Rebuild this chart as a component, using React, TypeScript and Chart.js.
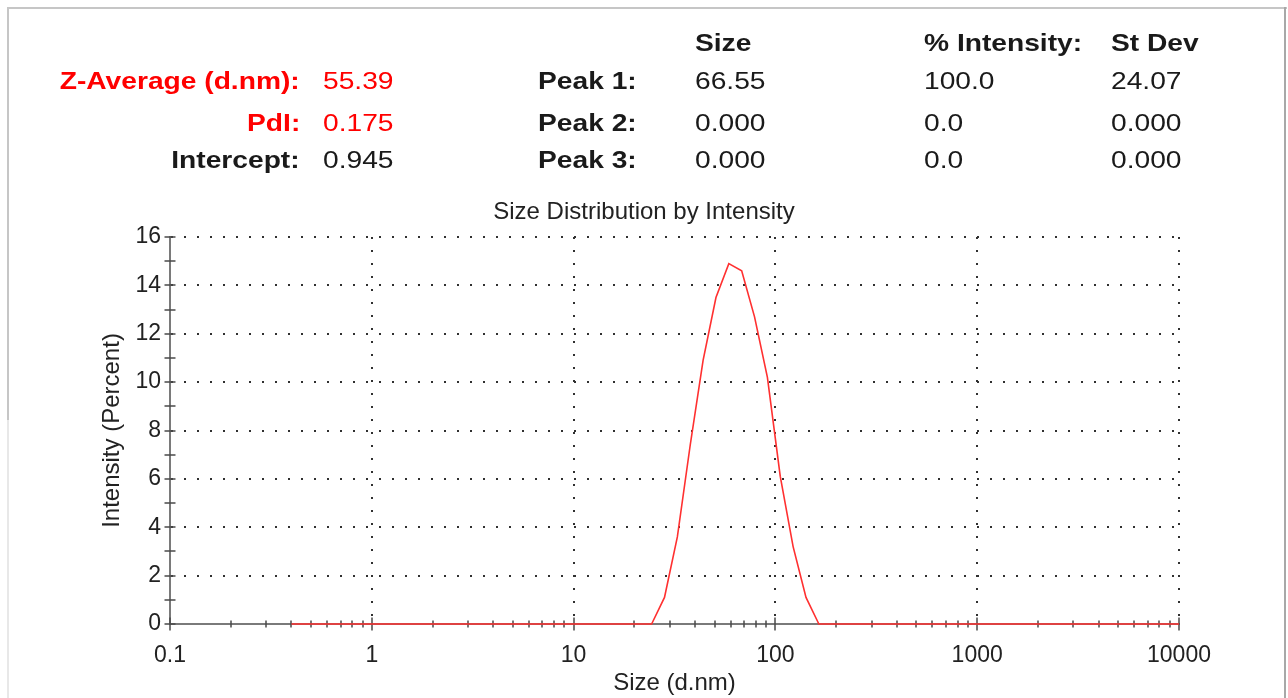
import React, { useEffect, useRef } from 'react';
import { Chart, registerables } from 'chart.js';

Chart.register(...registerables);

// ---- Data ----
const SIZES = [
  0.4, 0.4632, 0.5365, 0.6213, 0.7195, 0.8332, 0.9649, 1.117, 1.294, 1.499,
  1.736, 2.01, 2.328, 2.696, 3.122, 3.615, 4.187, 4.849, 5.615, 6.503,
  7.531, 8.721, 10.1, 11.7, 13.54, 15.69, 18.17, 21.04, 24.36, 28.21,
  32.67, 37.84, 43.82, 50.75, 58.77, 68.06, 78.82, 91.28, 105.7, 122.4,
  141.8, 164.2, 190.1, 220.2, 255, 295.3, 342, 396.1, 458.7, 531.2,
  615.1, 712.4, 825, 955.4, 1106, 1281, 1484, 1718, 1990, 2305,
  2669, 3091, 3580, 4145, 4801, 5560, 6439, 7456, 8635, 10000,
];
const INTENSITY = [
  0, 0, 0, 0, 0, 0, 0, 0, 0, 0,
  0, 0, 0, 0, 0, 0, 0, 0, 0, 0,
  0, 0, 0, 0, 0, 0, 0, 0, 0, 1.1,
  3.6, 7.4, 10.9, 13.5, 14.9, 14.6, 12.7, 10.2, 6.1, 3.2,
  1.1, 0, 0, 0, 0, 0, 0, 0, 0, 0,
  0, 0, 0, 0, 0, 0, 0, 0, 0, 0,
  0, 0, 0, 0, 0, 0, 0, 0, 0, 0,
];
const X_DECADES = [0.1, 1, 10, 100, 1000, 10000];
const X_LABELS = ['0.1', '1', '10', '100', '1000', '10000'];
const X_MINOR_MULTIPLES = [2, 3, 4, 5, 6, 7, 8, 9];
const Y_MIN = 0;
const Y_MAX = 16;
const Y_LABEL_STEP = 2;

const CHART_TITLE = 'Size Distribution by Intensity';
const X_TITLE = 'Size (d.nm)';
const Y_TITLE = 'Intensity (Percent)';

const SUMMARY_LABELS = ['Z-Average (d.nm):', 'PdI:', 'Intercept:'];
const SUMMARY_VALUES = ['55.39', '0.175', '0.945'];
const SUMMARY_RED = [true, true, false];
const PEAK_HEADERS = ['Size', '% Intensity:', 'St Dev'];
const PEAK_LABELS = ['Peak 1:', 'Peak 2:', 'Peak 3:'];
const PEAK_SIZE = ['66.55', '0.000', '0.000'];
const PEAK_INTENSITY = ['100.0', '0.0', '0.0'];
const PEAK_STDEV = ['24.07', '0.000', '0.000'];

const FONT = '"Liberation Sans", Arial, Helvetica, sans-serif';
const RED = '#ff0000';
const INK = '#1a1a1a';

const isDecade = (v: number) => X_DECADES.some((d) => Math.abs(d - v) < d * 1e-6);

const crossTicks = {
  id: 'crossTicks',
  beforeDatasetsDraw(chart: any) {
    const { ctx } = chart;
    const xs = chart.scales.x;
    const ys = chart.scales.y;
    const y0 = ys.getPixelForValue(Y_MIN);
    const x0 = xs.getPixelForValue(X_DECADES[0]);
    ctx.save();
    ctx.strokeStyle = '#4a4a4a';
    ctx.lineWidth = 1.5;
    ctx.beginPath();
    for (const t of xs.ticks) {
      const px = Math.round(xs.getPixelForValue(t.value));
      const len = isDecade(t.value) ? 6.5 : 3.5;
      ctx.moveTo(px, y0 - len);
      ctx.lineTo(px, y0 + len);
    }
    for (const t of ys.ticks) {
      const py = Math.round(ys.getPixelForValue(t.value));
      ctx.moveTo(x0 - 5.5, py);
      ctx.lineTo(x0 + 5.5, py);
    }
    ctx.stroke();
    ctx.restore();
  },
};

const FS = 24.5;
const STRETCH = 1.15;
const BASE_OFF = (FS - 1.117 * FS) / 2 + 0.905 * FS;

function Txt(props: { x: number; base: number; text: string; bold?: boolean; color?: string; right?: boolean }) {
  const { x, base, text, bold, color, right } = props;
  const style: any = {
    position: 'absolute',
    top: base - BASE_OFF,
    fontFamily: FONT,
    fontSize: FS,
    lineHeight: FS + 'px',
    fontWeight: bold ? 'bold' : 'normal',
    color: color || INK,
    whiteSpace: 'nowrap',
    transform: `scaleX(${STRETCH})`,
    transformOrigin: right ? 'right center' : 'left center',
  };
  if (right) {
    style.right = 1288 - x;
    style.textAlign = 'right';
  } else {
    style.left = x;
  }
  return <div style={style}>{text}</div>;
}

export default function App() {
  const canvasRef = useRef<HTMLCanvasElement | null>(null);

  useEffect(() => {
    if (!canvasRef.current) return;
    Chart.defaults.font.family = FONT;
    const gridDot = '#303030';
    const chart = new Chart(canvasRef.current, {
      type: 'line',
      data: {
        datasets: [
          {
            data: SIZES.map((s, i) => ({ x: s, y: INTENSITY[i] })),
            borderColor: '#ff3030',
            borderWidth: 1.6,
            pointRadius: 0,
            tension: 0,
            fill: false,
            clip: false as any,
          },
        ],
      },
      plugins: [crossTicks],
      options: {
        animation: false,
        responsive: false,
        devicePixelRatio: 1,
        events: [],
        layout: { padding: { top: 198, left: 0, right: 0, bottom: 0 } },
        plugins: {
          legend: { display: false },
          tooltip: { enabled: false },
          title: {
            display: true,
            text: CHART_TITLE,
            color: '#222',
            font: { size: 24, weight: 'normal', family: FONT },
            padding: { top: 0, bottom: 10.2 },
          },
        },
        scales: {
          x: {
            type: 'logarithmic',
            position: 'bottom',
            min: X_DECADES[0],
            max: X_DECADES[X_DECADES.length - 1],
            afterBuildTicks: (scale: any) => {
              const ticks: any[] = [];
              X_DECADES.forEach((d, i) => {
                ticks.push({ value: d });
                if (i < X_DECADES.length - 1) {
                  X_MINOR_MULTIPLES.forEach((m) => ticks.push({ value: d * m }));
                }
              });
              scale.ticks = ticks;
            },
            afterFit: (scale: any) => {
              scale.height = 74;
            },
            ticks: {
              autoSkip: false,
              maxRotation: 0,
              minRotation: 0,
              padding: 17.5,
              color: '#222',
              font: { size: 23, family: FONT },
              callback: (value: any) => {
                const i = X_DECADES.findIndex((d) => Math.abs(d - Number(value)) < d * 1e-6);
                return i >= 0 ? X_LABELS[i] : '';
              },
            },
            grid: {
              drawTicks: false,
              lineWidth: 2,
              color: (ctx: any) => {
                const v = ctx.tick ? ctx.tick.value : null;
                return v != null && isDecade(v) && v > X_DECADES[0] * 1.01 ? gridDot : 'rgba(0,0,0,0)';
              },
            },
            border: { display: true, color: '#7a7a7a', width: 2, dash: [2, 11] },
            title: {
              display: true,
              text: X_TITLE,
              color: '#222',
              font: { size: 24, family: FONT },
              padding: { top: 0, bottom: 0.2 },
            },
          },
          y: {
            type: 'linear',
            position: 'left',
            min: Y_MIN,
            max: Y_MAX,
            afterFit: (scale: any) => {
              scale.width = 170;
            },
            ticks: {
              stepSize: 1,
              autoSkip: false,
              padding: 9,
              color: '#222',
              font: { size: 23, family: FONT },
              callback: (value: any) => (Number(value) % Y_LABEL_STEP === 0 ? String(value) : ''),
            },
            grid: {
              drawTicks: false,
              lineWidth: 2,
              color: (ctx: any) => {
                const v = ctx.tick ? ctx.tick.value : null;
                return v != null && v % Y_LABEL_STEP === 0 && v > Y_MIN ? gridDot : 'rgba(0,0,0,0)';
              },
            },
            border: { display: true, color: '#7a7a7a', width: 2, dash: [2, 11] },
            title: {
              display: true,
              text: Y_TITLE,
              color: '#222',
              font: { size: 24, family: FONT },
              padding: { top: 98, bottom: 0 },
            },
          },
          spacer: {
            type: 'linear',
            position: 'right',
            display: true,
            afterFit: (scale: any) => {
              scale.width = 109;
            },
            ticks: { display: false },
            grid: { display: false, drawTicks: false },
            border: { display: false },
            title: { display: false },
          },
        },
      } as any,
    });
    return () => chart.destroy();
  }, []);

  const rowBase = [89.3, 131.5, 168.3];
  const headBase = 52;

  return (
    <div
      style={{
        position: 'fixed',
        left: 0,
        top: 0,
        width: 1288,
        height: 698,
        background: '#ffffff',
        overflow: 'hidden',
      }}
    >
      {/* frame */}
      <div style={{ position: 'absolute', left: 8, top: 7, width: 1279, height: 2, background: '#c6c6c6' }} />
      <div style={{ position: 'absolute', left: 7, top: 7, width: 2, height: 413, background: '#c6c6c6' }} />
      <div style={{ position: 'absolute', left: 7, top: 420, width: 2, height: 278, background: '#e8e8e8' }} />
      <div style={{ position: 'absolute', left: 1284, top: 7, width: 2, height: 691, background: '#a8a8a8' }} />

      <canvas
        ref={canvasRef}
        width={1288}
        height={698}
        style={{ position: 'absolute', left: 0, top: 0, width: 1288, height: 698 }}
      />

      {/* summary block */}
      {SUMMARY_LABELS.map((t, i) => (
        <Txt key={'sl' + i} x={300} base={rowBase[i]} text={t} bold right color={SUMMARY_RED[i] ? RED : INK} />
      ))}
      {SUMMARY_VALUES.map((t, i) => (
        <Txt key={'sv' + i} x={323} base={rowBase[i]} text={t} color={SUMMARY_RED[i] ? RED : INK} />
      ))}

      {/* peak table */}
      <Txt x={695} base={headBase} text={PEAK_HEADERS[0]} bold />
      <Txt x={924} base={headBase} text={PEAK_HEADERS[1]} bold />
      <Txt x={1111} base={headBase} text={PEAK_HEADERS[2]} bold />
      {PEAK_LABELS.map((t, i) => (
        <Txt key={'pl' + i} x={538} base={rowBase[i]} text={t} bold />
      ))}
      {PEAK_SIZE.map((t, i) => (
        <Txt key={'ps' + i} x={695} base={rowBase[i]} text={t} />
      ))}
      {PEAK_INTENSITY.map((t, i) => (
        <Txt key={'pi' + i} x={924} base={rowBase[i]} text={t} />
      ))}
      {PEAK_STDEV.map((t, i) => (
        <Txt key={'pd' + i} x={1111} base={rowBase[i]} text={t} />
      ))}
    </div>
  );
}
